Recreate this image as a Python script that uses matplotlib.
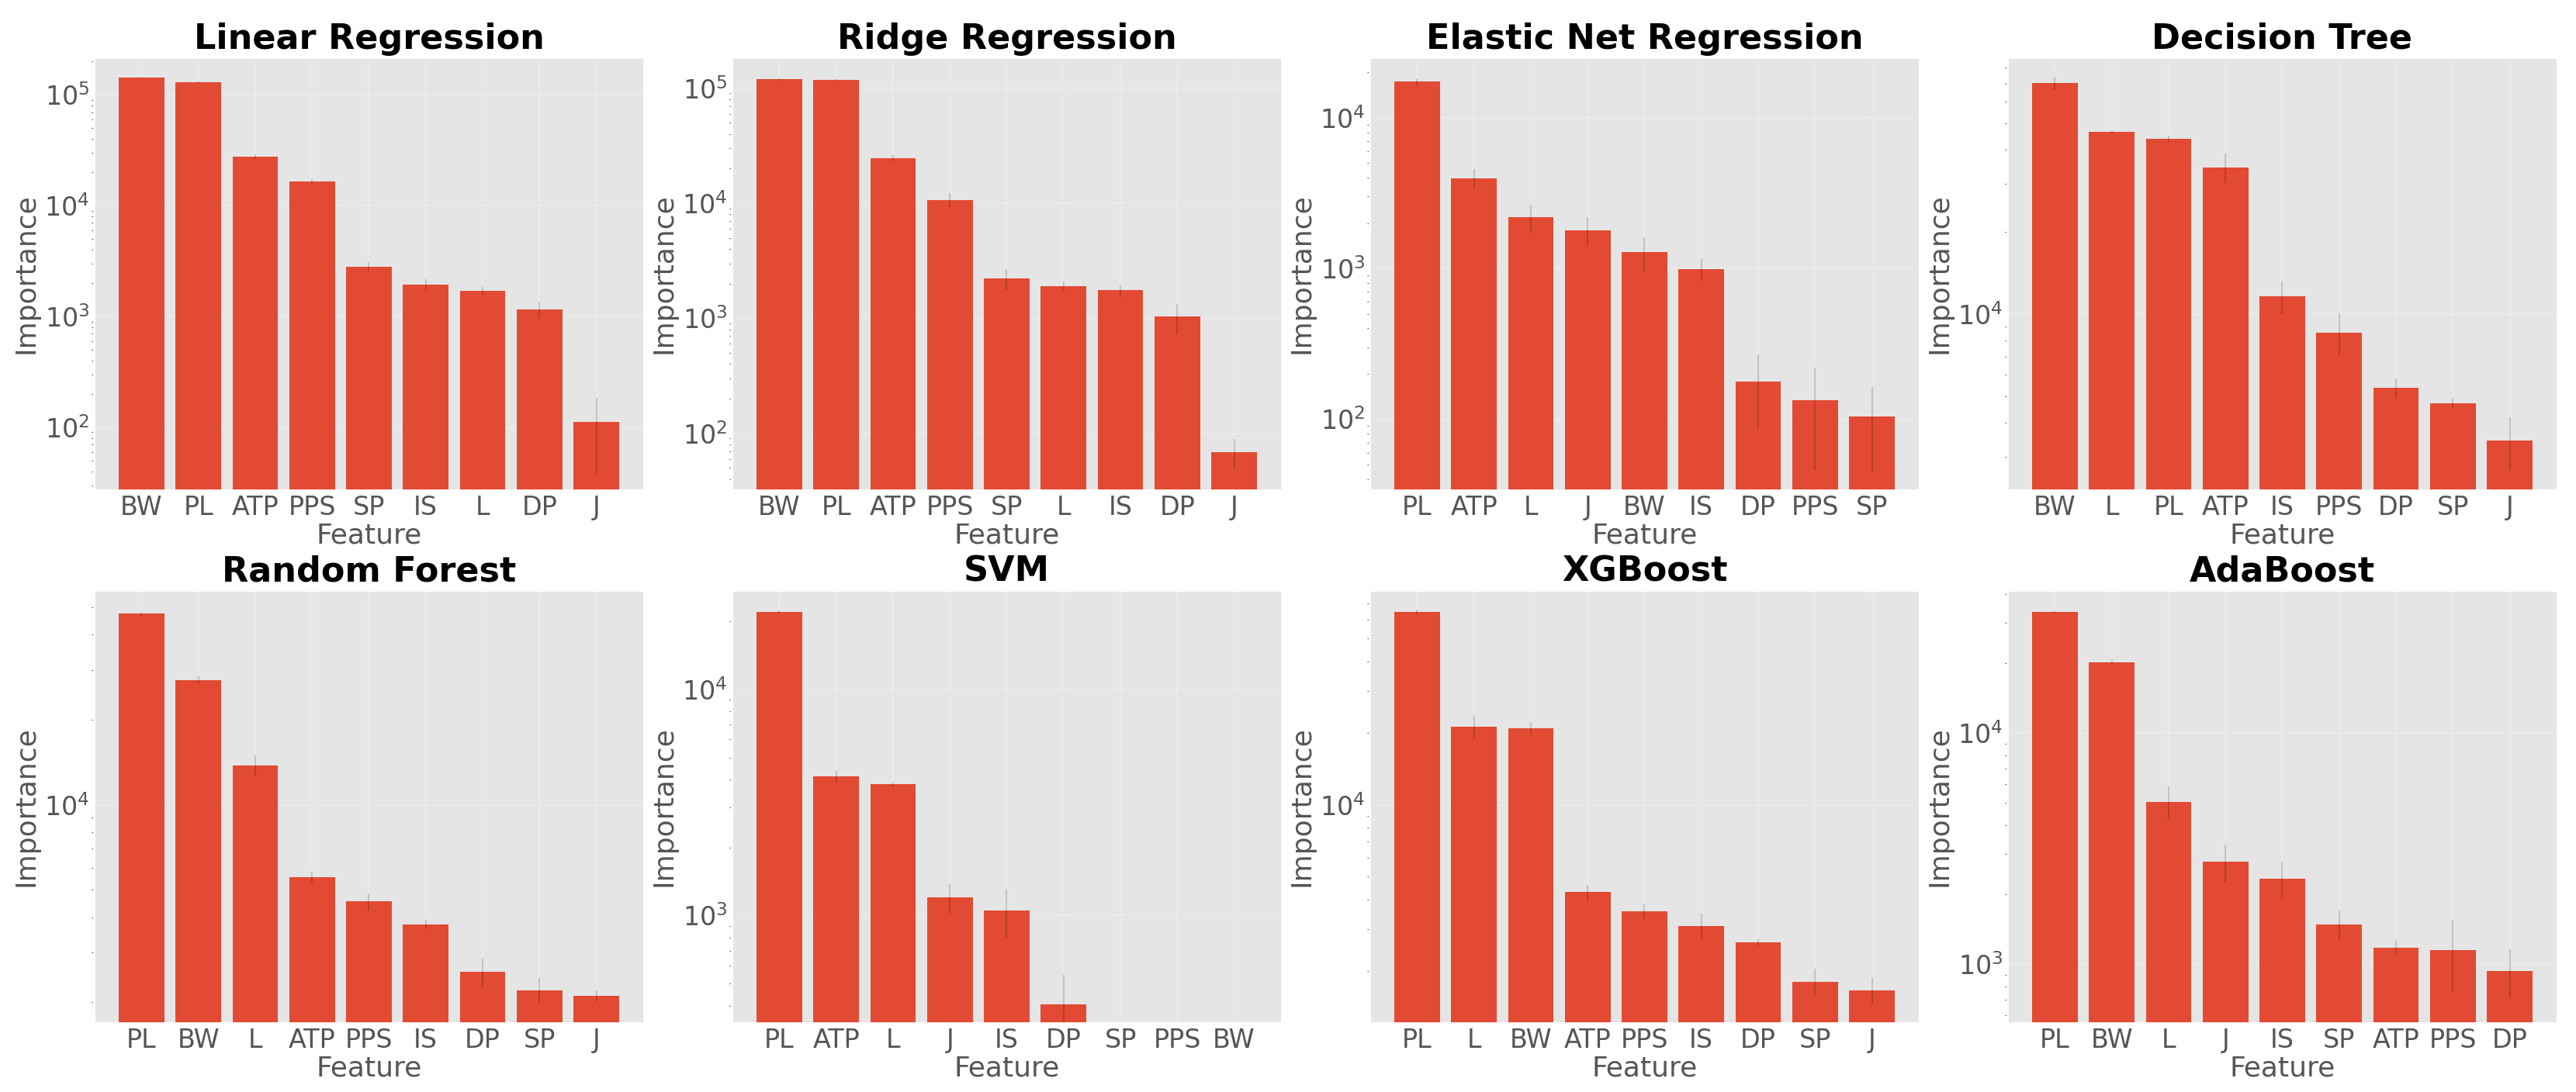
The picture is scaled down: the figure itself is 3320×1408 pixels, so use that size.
import matplotlib
matplotlib.use('Agg')
import matplotlib.pyplot as plt

plt.style.use('ggplot')

# feature importances per model (log scale)
lr_features = ['BW', 'PL', 'ATP', 'PPS', 'SP', 'IS', 'L', 'DP', 'J']
lr_values = [144000, 130000, 27700, 16500, 2830, 1930, 1690, 1160, 111]
lr_errors = [2000, 2000, 1500, 800, 280, 230, 155, 210, 73]

ridge_features = ['BW', 'PL', 'ATP', 'PPS', 'SP', 'L', 'IS', 'DP', 'J']
ridge_values = [120000, 117500, 24500, 10700, 2220, 1910, 1750, 1030, 68.6]
ridge_errors = [2000, 2000, 1500, 1500, 450, 180, 215, 300, 20]

enet_features = ['PL', 'ATP', 'L', 'J', 'BW', 'IS', 'DP', 'PPS', 'SP']
enet_values = [17300, 3970, 2180, 1790, 1280, 995, 178, 133, 104]
enet_errors = [1000, 580, 460, 390, 336, 165, 91, 87, 59]

dt_features = ['BW', 'L', 'PL', 'ATP', 'IS', 'PPS', 'DP', 'SP', 'J']
dt_values = [70300, 46600, 43900, 34500, 11600, 8580, 5380, 4720, 3440]
dt_errors = [3800, 700, 1100, 4300, 1600, 1500, 445, 220, 765]

rf_features = ['PL', 'BW', 'L', 'ATP', 'PPS', 'IS', 'DP', 'SP', 'J']
rf_values = [47500, 27600, 13800, 5530, 4550, 3770, 2560, 2210, 2110]
rf_errors = [800, 900, 1150, 250, 320, 150, 290, 230, 95]

svm_features = ['PL', 'ATP', 'L', 'J', 'IS', 'DP', 'SP', 'PPS', 'BW']
svm_values = [22000, 4120, 3800, 1200, 1050, 405, 0, 0, 0]
svm_errors = [300, 250, 80, 180, 260, 141, 0, 0, 0]

xgb_features = ['PL', 'L', 'BW', 'ATP', 'PPS', 'IS', 'DP', 'SP', 'J']
xgb_values = [64600, 21300, 21000, 4300, 3560, 3110, 2640, 1810, 1660]
xgb_errors = [1300, 2300, 1200, 320, 250, 390, 80, 235, 215]

ada_features = ['PL', 'BW', 'L', 'J', 'IS', 'SP', 'ATP', 'PPS', 'DP']
ada_values = [33400, 20300, 5050, 2780, 2340, 1480, 1180, 1150, 936]
ada_errors = [300, 500, 820, 520, 430, 220, 90, 400, 220]

titles = ['Linear Regression', 'Ridge Regression', 'Elastic Net Regression',
          'Decision Tree', 'Random Forest', 'SVM', 'XGBoost', 'AdaBoost']
models = [
    (lr_features, lr_values, lr_errors),
    (ridge_features, ridge_values, ridge_errors),
    (enet_features, enet_values, enet_errors),
    (dt_features, dt_values, dt_errors),
    (rf_features, rf_values, rf_errors),
    (svm_features, svm_values, svm_errors),
    (xgb_features, xgb_values, xgb_errors),
    (ada_features, ada_values, ada_errors),
]
# y ranges of each panel
ylims = [(27, 2.18e5), (32, 1.85e5), (33.8, 2.51e4), (2265, 8.73e4),
         (1690, 5.75e4), (335, 2.74e4), (1214, 7.96e4), (556, 4.15e4)]

fig, axes = plt.subplots(2, 4, figsize=(16.6, 7.04), dpi=200)
fig.subplots_adjust(left=0.0364, right=0.9928, top=0.9474, bottom=0.0632,
                    wspace=0.159, hspace=0.231)

for ax, title, (feats, vals, errs), lim in zip(axes.flat, titles, models, ylims):
    x = range(len(feats))
    ax.bar(x, vals, yerr=errs, color='#E24A33', width=0.8, log=True,
           error_kw=dict(ecolor='black', elinewidth=0.12, capsize=0))
    ax.set_ylim(lim)
    ax.set_xticks(list(x))
    ax.set_xticklabels(feats)
    ax.set_title(title, fontsize=16, fontweight='bold', color='black', pad=4)
    ax.set_xlabel('Feature', fontsize=13, color='#555555', labelpad=1)
    ax.set_ylabel('Importance', fontsize=13, color='#555555')
    ax.yaxis.set_label_coords(-0.099, 0.5)
    ax.tick_params(axis='both', which='major', labelsize=12, length=0, pad=2,
                   colors='#555555')
    ax.tick_params(axis='y', which='minor', length=1.2, width=0.4,
                   colors='#555555')
    ax.tick_params(axis='x', which='minor', length=0)
    ax.grid(True, which='major', color='white', linewidth=0.15)
    ax.grid(False, which='minor')
    ax.set_axisbelow(True)

fig.savefig('out.png', dpi=200)
